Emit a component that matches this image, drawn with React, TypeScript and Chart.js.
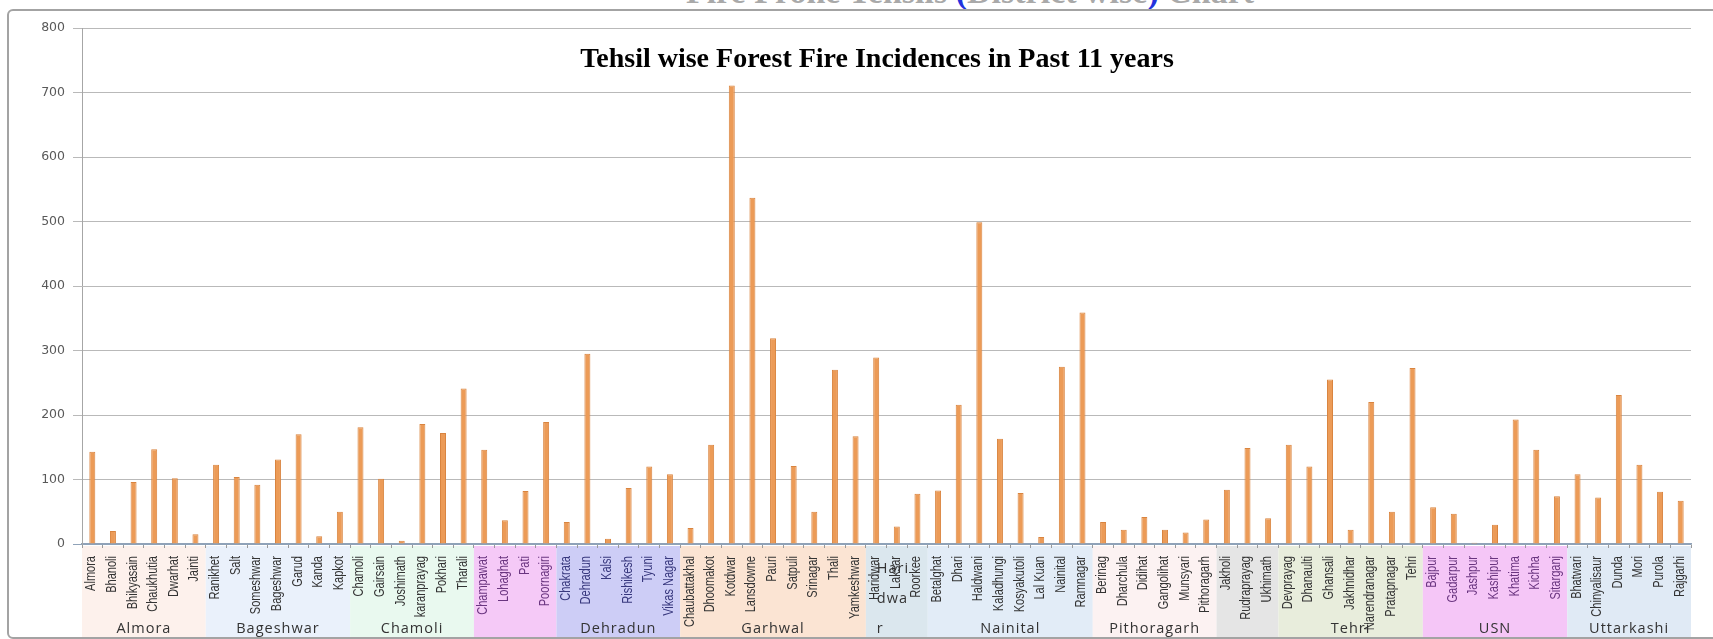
import React, { useEffect, useRef } from "react";
import { Chart, registerables } from "chart.js";

Chart.register(...registerables);

// ---------------- DATA ----------------
const tehsils = [
  "Almora", "Bhanoli", "Bhikyasain", "Chaukhutia", "Dwarhat", "Jainti",
  "Ranikhet", "Salt", "Someshwar", "Bageshwar", "Garud", "Kanda", "Kapkot",
  "Chamoli", "Gairsain", "Joshimath", "karanprayag", "Pokhari", "Tharali",
  "Champawat", "Lohaghat", "Pati", "Poornagiri",
  "Chakrata", "Dehradun", "Kalsi", "Rishikesh", "Tyuni", "Vikas Nagar",
  "Chaubattakhal", "Dhoomakot", "Kotdwar", "Lansdowne", "Pauri", "Satpuli", "Srinagar", "Thali", "Yamkeshwar",
  "Haridwar", "Laksar", "Roorkee",
  "Betalghat", "Dhari", "Haldwani", "Kaladhungi", "Kosyakutoli", "Lal Kuan", "Nainital", "Ramnagar",
  "Berinag", "Dharchula", "Didihat", "Gangolihat", "Munsyari", "Pithoragarh",
  "Jakholi", "Rudraprayag", "Ukhimath",
  "Devprayag", "Dhanaulti", "Ghansali", "Jakhnidhar", "Narendranagar", "Pratapnagar", "Tehri",
  "Bajpur", "Gadarpur", "Jashpur", "Kashipur", "Khatima", "Kichha", "Sitarganj",
  "Bhatwari", "Chinyalisaur", "Dunda", "Mori", "Purola", "Rajgarhi",
];

const incidences = [
  143, 20, 96, 147, 102, 15,
  123, 104, 92, 131, 170, 12, 50,
  181, 101, 5, 186, 172, 241,
  146, 37, 82, 189,
  34, 295, 8, 87, 120, 108,
  25, 154, 711, 537, 319, 121, 50, 270, 167,
  289, 27, 78,
  83, 216, 499, 163, 79, 11, 275, 359,
  34, 22, 42, 22, 18, 38,
  84, 149, 40,
  154, 120, 255, 22, 220, 50, 273,
  57, 47, 2, 30, 193, 146, 74,
  108, 72, 231, 123, 81, 67,
];

const districts = [
  "Almora", "Bageshwar", "Chamoli", "Champawat", "Dehradun", "Garhwal", "Haridwar",
  "Nainital", "Pithoragarh", "Rudraprayag", "Tehri", "USN", "Uttarkashi",
];
const districtSizes = [6, 7, 6, 4, 6, 9, 3, 8, 6, 3, 7, 7, 6];
const districtLabelLines: string[][] = [
  ["Almora"], ["Bageshwar"], ["Chamoli"], [], ["Dehradun"], ["Garhwal"], ["Hari", "dwa", "r"],
  ["Nainital"], ["Pithoragarh"], [], ["Tehri"], ["USN"], ["Uttarkashi"],
];

const yMin = 0;
const yMax = 800;
const yStep = 100;

const chartTitle = "Tehsil wise Forest Fire Incidences in Past 11 years";

// ---------------- STYLES ----------------
const bandColors = [
  "#fdf1ec", "#eaf1fb", "#e9f9ef", "#f5c9f7", "#cdcdf6", "#fbe4d3", "#dbe7ee",
  "#e2ecf7", "#fcf2f2", "#e5e5e5", "#e8eddc", "#f5c6f7", "#e0eaf5",
];
const labelColors = [
  "#333333", "#333333", "#333333", "#6a3580", "#38387e", "#333333", "#333333",
  "#333333", "#333333", "#333333", "#333333", "#6a3580", "#333333",
];

const W = 1713;
const H = 639;

export default function App() {
  const ref = useRef<HTMLCanvasElement | null>(null);

  useEffect(() => {
    const canvas = ref.current;
    if (!canvas) return;

    const starts: number[] = [];
    const districtOf: number[] = [];
    let acc = 0;
    districtSizes.forEach((n, d) => {
      starts.push(acc);
      for (let i = 0; i < n; i++) districtOf.push(d);
      acc += n;
    });

    const decorPlugin = {
      id: "decor",
      beforeDraw(chart: any) {
        const { ctx, chartArea } = chart;
        const xs = chart.scales.x;
        const w = (xs.right - xs.left) / tehsils.length;
        const top = chartArea.bottom + 2;
        const bottom = 637;
        ctx.save();
        districts.forEach((_, d) => {
          const x0 = xs.left + starts[d] * w;
          const x1 = xs.left + (starts[d] + districtSizes[d]) * w;
          ctx.fillStyle = bandColors[d];
          ctx.fillRect(x0, top, x1 - x0, bottom - top);
        });
        ctx.restore();
      },
      afterDraw(chart: any) {
        const { ctx, chartArea } = chart;
        const xs = chart.scales.x;
        const w = (xs.right - xs.left) / tehsils.length;

        // tehsil labels (narrow, rotated)
        ctx.save();
        ctx.font = '14.5px "Liberation Sans", Arial, sans-serif';
        ctx.textAlign = "right";
        ctx.textBaseline = "middle";
        tehsils.forEach((name, i) => {
          const x = xs.getPixelForValue(i);
          ctx.save();
          ctx.translate(x - 1, chartArea.bottom + 12);
          ctx.rotate(-Math.PI / 2);
          ctx.scale(0.76, 1);
          ctx.fillStyle = labelColors[districtOf[i]];
          ctx.fillText(name, 0, 0);
          ctx.restore();
        });
        ctx.restore();

        // district labels
        ctx.save();
        ctx.fillStyle = "#333333";
        ctx.font = '14.5px "Open Sans", "Noto Sans", sans-serif';
        (ctx as any).letterSpacing = "1px";
        ctx.textBaseline = "middle";
        districts.forEach((_, d) => {
          const lines = districtLabelLines[d];
          if (!lines.length) return;
          const x0 = xs.left + starts[d] * w;
          const x1 = xs.left + (starts[d] + districtSizes[d]) * w;
          if (lines.length === 1) {
            ctx.textAlign = "center";
            ctx.fillText(lines[0], (x0 + x1) / 2, 629);
          } else {
            ctx.textAlign = "left";
            lines.forEach((ln, k) => {
              const y = 629 - (lines.length - 1 - k) * 30;
              ctx.fillText(ln, x0 + 11, y);
            });
          }
        });
        ctx.restore();

        // title
        ctx.save();
        ctx.fillStyle = "#000000";
        ctx.font = 'bold 28px "Liberation Serif", "Times New Roman", serif';
        ctx.textAlign = "center";
        ctx.textBaseline = "middle";
        ctx.fillText(chartTitle, 877, 60);
        ctx.restore();
      },
    };

    const chart = new Chart(canvas, {
      type: "bar",
      data: {
        labels: tehsils,
        datasets: [
          {
            label: "Incidences",
            data: incidences,
            backgroundColor: "#ec9b57",
            borderColor: "#d9843f",
            borderWidth: 1,
            barPercentage: 0.29,
            categoryPercentage: 1,
          },
        ],
      },
      options: {
        responsive: false,
        animation: false,
        devicePixelRatio: 1,
        layout: { padding: { left: 0, right: 22, top: 28, bottom: 0 } },
        plugins: {
          legend: { display: false },
          title: { display: false },
          tooltip: { enabled: false },
        },
        scales: {
          x: {
            offset: true,
            afterFit(scale: any) {
              scale.height = H - 544;
            },
            grid: {
              display: true,
              offset: true,
              drawOnChartArea: false,
              tickLength: 4,
              color: "#9a9a9a",
            },
            border: { display: true, color: "#8fa2b8", width: 1.5 },
            ticks: {
              display: false,
              autoSkip: false,
            },
          },
          y: {
            min: yMin,
            max: yMax,
            afterFit(scale: any) {
              scale.width = 82;
            },
            grid: {
              color: (c: any) => (c.tick && c.tick.value === 0 ? "#8fa2b8" : "#b9b9b9"),
              lineWidth: 1,
              tickLength: 9,
            },
            border: { display: true, color: "#a6a6a6" },
            ticks: {
              stepSize: yStep,
              padding: 8,
              color: "#595959",
              font: { family: '"DejaVu Sans", sans-serif', size: 12.5 },
            },
          },
        },
      },
      plugins: [decorPlugin],
    });

    return () => chart.destroy();
  }, []);

  return (
    <div
      style={{
        position: "absolute",
        left: 0,
        top: 0,
        width: W,
        height: H,
        overflow: "hidden",
        background: "#ffffff",
      }}
    >
      <div
        style={{
          position: "absolute",
          left: 970,
          top: -25,
          transform: "translateX(-50%)",
          whiteSpace: "nowrap",
          font: 'bold 34px "Liberation Serif", serif',
          lineHeight: "34px",
          color: "#a9a9a9",
        }}
      >
        Fire Prone Tehsils <span style={{ color: "#2233dd" }}>(</span>District wise
        <span style={{ color: "#2233dd" }}>)</span> Chart
      </div>
      <div
        style={{
          position: "absolute",
          left: 7,
          top: 9,
          width: 1760,
          height: 626,
          border: "2px solid #a3a3a3",
          borderRadius: 6,
        }}
      />
      <canvas ref={ref} width={W} height={H} style={{ position: "absolute", left: 0, top: 0 }} />
    </div>
  );
}
